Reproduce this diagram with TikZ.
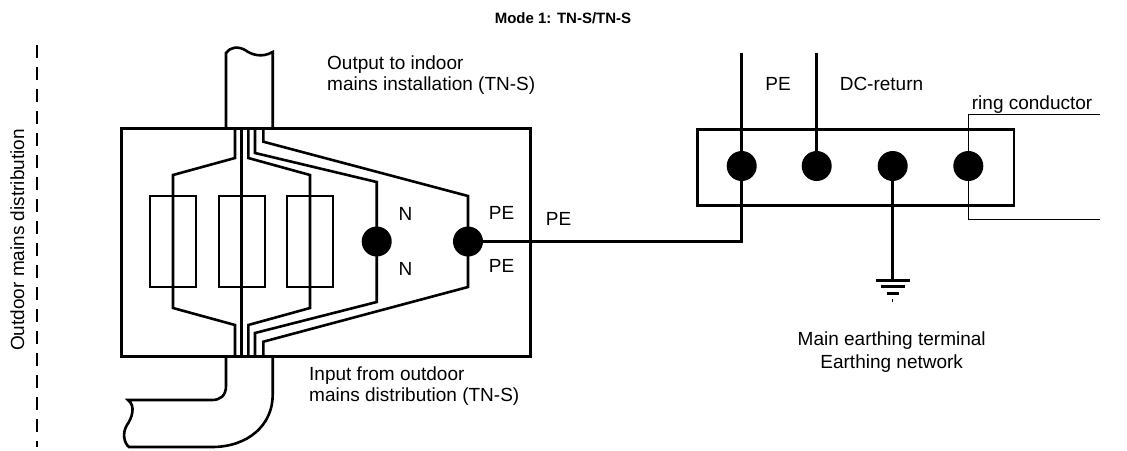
\documentclass[tikz,border=0pt]{standalone}
\usepackage{fontspec}
\setmainfont{Liberation Sans}
\begin{document}
\begin{tikzpicture}[x=1pt,y=-1pt,
  wire/.style={line width=2.6pt, line join=miter},
  thinwire/.style={line width=1pt},
  dot/.style={circle, fill=black, inner sep=0pt, minimum size=30pt},
  lbl/.style={font=\fontsize{19}{22}\selectfont, inner sep=0pt},
  ttl/.style={font=\fontsize{15}{18}\selectfont\bfseries, inner sep=0pt}]
\useasboundingbox (0,0) rectangle (1127,450);

% title
\node[ttl, anchor=base] (title) at (563,23) {Mode 1: TN-S/TN-S};

% dashed boundary and rotated label
\coordinate (dashtop) at (36.7,45);
\coordinate (dashbot) at (36.7,447);
\draw[line width=2pt, dash pattern=on 13pt off 9pt] (dashtop) -- (dashbot);
\node[lbl, rotate=90, anchor=base] (outdoor) at (24,240) {Outdoor mains distribution};

% main box
\node[draw, line width=2.6pt, minimum width=409pt, minimum height=228pt, inner sep=0pt, anchor=north west] (box) at (120,127) {};

% top pipe
\draw[wire] (226,127) -- (226,53) .. controls (230,47) and (238,46) .. (245,50)
  .. controls (252,55) and (262,58) .. (272.7,52) -- (272.7,127);

% bottom pipe
\draw[wire] (226,355) -- (226,386) .. controls (226,396) and (220,400) .. (212,400) -- (128,400)
  .. controls (136,406) and (132,418) .. (127,425) .. controls (122,433) and (124,443) .. (129,447)
  -- (212,447) .. controls (248,447) and (272.7,425) .. (272.7,395) -- (272.7,355);

% fuses
\foreach \n/\cx in {f1/173, f2/241.7, f3/310}{
  \node[draw, line width=2.3pt, minimum width=46pt, minimum height=91pt, inner sep=0pt] (\n) at (\cx,241.5) {};
}

% dots in box
\node[dot] (Ndot) at (376.7,241.5) {};
\node[dot] (PEdot) at (468,241.5) {};

% conductors
\draw[wire] (235,127) -- (235,158) -- (173,175) -- (173,308) -- (235,325) -- (235,355);
\draw[wire] (241.7,127) -- (241.7,355);
\draw[wire] (248.3,127) -- (248.3,158) -- (310,175) -- (310,308) -- (248.3,325) -- (248.3,355);
\draw[wire] (255,127) -- (255,153) -- (376.7,182) -- (Ndot.center) -- (376.7,302) -- (255,333) -- (255,355);
\draw[wire] (263.3,127) -- (263.3,141.7) -- (468,196) -- (PEdot.center) -- (468,287) -- (263.3,341.7) -- (263.3,355);

% labels in box
\node[lbl] (N1) at (405.5,214) {N};
\node[lbl] (N2) at (405.5,269) {N};
\node[lbl] (PE1) at (501.5,213) {PE};
\node[lbl] (PE2) at (501.5,266) {PE};
\node[lbl] (PE3) at (558.5,219) {PE};

% texts
\node[lbl, anchor=base west] (out1) at (327,69) {Output to indoor};
\node[lbl, anchor=base west] (out2) at (327,90) {mains installation (TN-S)};
\node[lbl, anchor=base west] (in1) at (309,380) {Input from outdoor};
\node[lbl, anchor=base west] (in2) at (309,401) {mains distribution (TN-S)};

% main earthing terminal
\node[draw, line width=2.6pt, minimum width=316.7pt, minimum height=75.7pt, inner sep=0pt, anchor=north west] (met) at (696,128.3) {};
\node[dot] (d1) at (741.7,166) {};
\node[dot] (d2) at (816.7,166) {};
\node[dot] (d3) at (892.7,166) {};
\node[dot] (d4) at (968.3,166) {};

\coordinate (petop) at (741.7,52.7);
\coordinate (dctop) at (816.7,52.7);
\draw[wire] (petop) -- (d1.center);
\draw[wire] (dctop) -- (d2.center);
\draw[wire] (PEdot.center) -- (741.7,241.5) -- (d1.center);
\coordinate (gnd) at (892.7,280);
\draw[wire] (d3.center) -- (gnd);
\draw[line width=3pt] (876,280) -- (910,280);
\draw[line width=3pt] (880.7,286.7) -- (904.7,286.7);
\draw[line width=3pt] (886.7,293.5) -- (898.7,293.5);
\draw[line width=1pt] (892.7,299) -- (892.7,302);

\coordinate (ringA) at (1100,114);
\coordinate (ringB) at (1100,219.3);
\draw[thinwire] (ringA) -- (968.3,114) -- (968.3,219.3) -- (ringB);

\node[lbl] (pelbl) at (778,84) {PE};
\node[lbl] (dclbl) at (881.5,84) {DC-return};
\node[lbl, anchor=base west] (ring) at (971.7,109) {ring conductor};
\node[lbl, anchor=base] (met1) at (891.7,345) {Main earthing terminal};
\node[lbl, anchor=base] (met2) at (891.7,368) {Earthing network};
\end{tikzpicture}
\end{document}
